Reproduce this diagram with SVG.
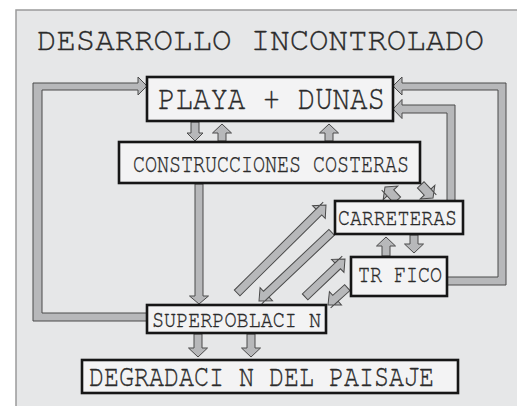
<svg xmlns="http://www.w3.org/2000/svg" width="517" height="406" viewBox="0 0 517 406">
<style>
.node rect{fill:#f3f3f4;stroke:#161616;stroke-width:2.6}
.node text,.title{font-family:"Nimbus Mono PS","Nimbus Mono L","FreeMono","Courier 10 Pitch","Courier","Liberation Mono",monospace;fill:#2a2a2a;stroke:#2a2a2a;stroke-width:0.35}
.band{fill:#b7b8ba;stroke:#4a4a4a;stroke-width:1;stroke-linejoin:miter}
</style>
<rect x="0" y="0" width="517" height="406" fill="#ffffff"/>
<rect x="16" y="10" width="520" height="410" fill="#e6e7e8" stroke="#9a9a9a" stroke-width="1.5"/>
<text class="title" x="37" y="50" font-size="33" textLength="447" lengthAdjust="spacingAndGlyphs">DESARROLLO INCONTROLADO</text>

<g id="connectors">
  <polygon class="band" points="148,321 33,321 33,83 138,83 138,77 147,86 138,95 138,90 42,90 42,313 148,313"/>
  <polygon class="band" points="446,285 506,285 506,83 402,83 402,77 393,86 402,95 402,90 498,90 498,277 446,277"/>
  <polygon class="band" points="455,202 455,105 402,105 402,99.5 393,109 402,118.5 402,113 447,113 447,202"/>
  <polygon class="band" points="191,122 199,122 199,133 203,133 195,141 187,133 191,133"/>
  <polygon class="band" points="218,141 226,141 226,133 231.5,133 222,124 212.5,133 218,133"/>
  <polygon class="band" points="325,141 333,141 333,133 338.5,133 329,124 319.5,133 325,133"/>
  <polygon class="band" points="195,184 203,184 203,296 208.5,296 199,304 189.5,296 195,296"/>
  <polygon class="band" points="0,-4 -10,-4 -10,-9 0,0 -10,9 -10,4 -125,4 -125,-4" transform="translate(326,205) rotate(-44.7)"/>
  <polygon class="band" points="0,-4 -10,-4 -10,-9 0,0 -10,9 -10,4 -100,4 -100,-4" transform="translate(259,301) rotate(136.6)"/>
  <polygon class="band" points="0,-4 -10,-4 -10,-9 0,0 -10,9 -10,4 -55,4 -55,-4" transform="translate(345,259) rotate(-43.5)"/>
  <polygon class="band" points="0,-4 -10,-4 -10,-9 0,0 -10,9 -10,4 -26,4 -26,-4" transform="translate(328,305) rotate(138)"/>
  <polygon class="band" points="0,-4.5 -8,-4.5 -8,-10 0,0 -8,10 -8,4.5 -18,4.5 -18,-4.5" transform="translate(385,187) rotate(-133)"/>
  <polygon class="band" points="0,-4.5 -8,-4.5 -8,-10 0,0 -8,10 -8,4.5 -18,4.5 -18,-4.5" transform="translate(433,198) rotate(47)"/>
  <polygon class="band" points="382,256 390,256 390,246 395.5,246 386,237 376.5,246 382,246"/>
  <polygon class="band" points="410,235 418,235 418,244 423.5,244 414,253 404.5,244 410,244"/>
  <polygon class="band" points="194,334 202,334 202,348 207.5,348 198,357 188.5,348 194,348"/>
  <polygon class="band" points="247,334 255,334 255,348 260.5,348 251,357 241.5,348 247,348"/>
</g>

<g id="playa" class="node">
  <rect x="147" y="77" width="246" height="44"/>
  <text x="158" y="109" font-size="34" textLength="227" lengthAdjust="spacingAndGlyphs">PLAYA + DUNAS</text>
</g>
<g id="construcciones" class="node">
  <rect x="119" y="142" width="301" height="41"/>
  <text x="133" y="172" font-size="26" textLength="276" lengthAdjust="spacingAndGlyphs">CONSTRUCCIONES COSTERAS</text>
</g>
<g id="carreteras" class="node">
  <rect x="335" y="201" width="128" height="33"/>
  <text x="338" y="225" font-size="23" textLength="119" lengthAdjust="spacingAndGlyphs">CARRETERAS</text>
</g>
<g id="trafico" class="node">
  <rect x="351" y="257" width="96" height="39"/>
  <text x="358" y="282" font-size="24" textLength="84" lengthAdjust="spacingAndGlyphs">TR FICO</text>
</g>
<g id="superpoblacion" class="node">
  <rect x="147" y="305" width="179" height="28"/>
  <text x="152" y="327" font-size="23" textLength="169" lengthAdjust="spacingAndGlyphs">SUPERPOBLACI N</text>
</g>
<g id="degradacion" class="node">
  <rect x="82" y="360" width="376" height="33"/>
  <text x="89" y="386" font-size="31" textLength="345" lengthAdjust="spacingAndGlyphs">DEGRADACI N DEL PAISAJE</text>
</g>
</svg>
